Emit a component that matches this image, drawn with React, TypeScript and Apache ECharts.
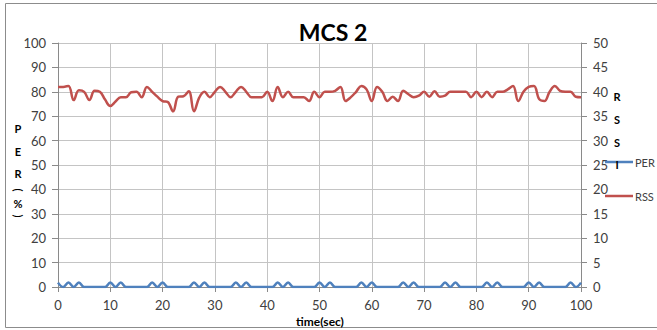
import React, { useEffect, useRef } from "react";
import * as echarts from "echarts";

const timeSec: number[] = Array.from({ length: 101 }, (_, i) => i);

const perValues: number[] = [
  1.8, 0, 1.8, 0, 1.8, 0, 0, 0, 0, 0,
  1.8, 0, 1.8, 0, 0, 0, 0, 0, 1.8, 0,
  1.8, 0, 0, 0, 0, 0, 1.8, 0, 1.8, 0,
  0, 0, 0, 0, 1.8, 0, 1.8, 0, 0, 0,
  0, 0, 1.8, 0, 1.8, 0, 0, 0, 0, 0,
  1.8, 0, 1.8, 0, 0, 0, 0, 0, 1.8, 0,
  1.8, 0, 0, 0, 0, 0, 1.8, 0, 1.8, 0,
  0, 0, 0, 0, 1.8, 0, 1.8, 0, 0, 0,
  0, 0, 1.8, 0, 1.8, 0, 0, 0, 0, 0,
  1.8, 0, 1.8, 0, 0, 0, 0, 0, 1.8, 0,
  1.8,
];

const rssValues: number[] = [
  41, 41, 41.2, 38.3, 40.3, 40, 38.3, 40.2, 40, 38.4,
  37.1, 38, 38.9, 38.9, 39.9, 40, 38.9, 41, 40, 39,
  38.1, 37.9, 36, 39, 39.1, 40.1, 36, 38.8, 40, 38.9,
  40, 41, 40, 38.9, 40, 41, 40, 38.9, 38.9, 38.9,
  40, 38.1, 41, 38.9, 40, 38.9, 38.9, 38.9, 38.1, 40,
  38.9, 40, 40, 40.2, 41, 38.1, 38.9, 40, 41.2, 40.5,
  38.1, 41, 40, 38.1, 39, 38.1, 40.2, 39.5, 38.9, 39.2,
  40, 39, 40.1, 39, 39.2, 40, 40, 40, 40, 38.9,
  40, 38.9, 40, 38.9, 40, 40, 40.5, 41.2, 38.1, 40,
  41, 41.2, 38.5, 38.1, 40, 41.2, 40.2, 40, 40, 39,
  38.9,
];

const seriesNames: string[] = ["PER", "RSS"];
const seriesColors: string[] = ["#4F81BD", "#C0504D"];
const chartTitle = "MCS 2";
const xAxisTitle = "time(sec)";
const leftTitleChars: string[] = ["P", "E", "R", "(", "%", ")"];
const rightTitleChars: string[] = ["R", "S", "S", "I"];

const FONT = "Lato, 'Open Sans', sans-serif";
const LABEL_COLOR = "#404040";
const GRID_COLOR = "#c4c4c4";
const AXIS_COLOR = "#8a8a8a";

export default function App() {
  const ref = useRef<HTMLDivElement | null>(null);

  useEffect(() => {
    if (!ref.current) return;
    const chart = echarts.init(ref.current, undefined, { renderer: "svg" });

    const leftYs = [128, 151, 173, 190, 203, 216];
    const rightYs = [96, 119, 142, 164];
    const legendYs = [162, 196];

    const graphics: any[] = [
      {
        type: "rect",
        shape: { x: 5.5, y: 3.5, width: 660, height: 324 },
        style: { fill: "none", stroke: "#8c8c8c", lineWidth: 1 },
        silent: true,
      },
      {
        type: "text",
        x: 333,
        y: 43,
        style: {
          text: chartTitle,
          font: `bold 23px ${FONT}`,
          fill: "#000",
          textAlign: "center",
          textVerticalAlign: "bottom",
        },
      },
      {
        type: "text",
        x: 320,
        y: 321,
        style: {
          text: xAxisTitle,
          font: `bold 12px ${FONT}`,
          fill: "#000",
          textAlign: "center",
          textVerticalAlign: "middle",
        },
      },
    ];

    seriesNames.forEach((name, i) => {
      graphics.push({
        type: "line",
        shape: { x1: 605, y1: legendYs[i], x2: 633, y2: legendYs[i] },
        style: { stroke: seriesColors[i], lineWidth: 2.5 },
        z: 90,
      });
      graphics.push({
        type: "text",
        x: 635,
        y: legendYs[i],
        style: {
          text: name,
          font: `11px ${FONT}`,
          fill: LABEL_COLOR,
          textAlign: "left",
          textVerticalAlign: "middle",
        },
      });
    });

    leftTitleChars.forEach((ch, i) => {
      const rot = ch === "(" || ch === ")" ? -Math.PI / 2 : 0;
      graphics.push({
        type: "text",
        x: 18,
        y: leftYs[i],
        rotation: rot,
        style: {
          text: ch,
          font: `bold 11px ${FONT}`,
          fill: "#000",
          textAlign: "center",
          textVerticalAlign: "middle",
        },
      });
    });
    rightTitleChars.forEach((ch, i) => {
      graphics.push({
        type: "text",
        x: 617,
        y: rightYs[i],
        style: {
          text: ch,
          font: `bold 11px ${FONT}`,
          fill: "#000",
          textAlign: "center",
          textVerticalAlign: "middle",
        },
        z: 100,
      });
    });

    const axisLabel = { color: LABEL_COLOR, fontSize: 13, fontFamily: FONT };

    chart.setOption({
      animation: false,
      backgroundColor: "#fff",
      grid: { left: 58, right: 76, top: 43, bottom: 43, containLabel: false },
      xAxis: {
        type: "value",
        min: 0,
        max: 100,
        interval: 10,
        axisLine: { show: true, onZero: false, lineStyle: { color: AXIS_COLOR } },
        axisTick: { show: true, length: 5, lineStyle: { color: AXIS_COLOR } },
        splitLine: { show: true, lineStyle: { color: GRID_COLOR } },
        axisLabel: { ...axisLabel, margin: 11 },
      },
      yAxis: [
        {
          type: "value",
          min: 0,
          max: 100,
          interval: 10,
          axisLine: { show: true, lineStyle: { color: AXIS_COLOR } },
          axisTick: { show: true, length: 6, lineStyle: { color: AXIS_COLOR } },
          splitLine: { show: true, lineStyle: { color: GRID_COLOR } },
          axisLabel: { ...axisLabel, margin: 12 },
        },
        {
          type: "value",
          min: 0,
          max: 50,
          interval: 5,
          position: "right",
          axisLine: { show: true, lineStyle: { color: AXIS_COLOR } },
          axisTick: { show: true, length: 6, lineStyle: { color: AXIS_COLOR } },
          splitLine: { show: false },
          axisLabel: { ...axisLabel, margin: 12 },
        },
      ],
      series: [
        {
          name: seriesNames[0],
          type: "line",
          yAxisIndex: 0,
          data: timeSec.map((t, i) => [t, perValues[i]]),
          smooth: 0.4,
          symbol: "none",
          lineStyle: { color: seriesColors[0], width: 2.5 },
          itemStyle: { color: seriesColors[0] },
        },
        {
          name: seriesNames[1],
          type: "line",
          yAxisIndex: 1,
          data: timeSec.map((t, i) => [t, rssValues[i]]),
          smooth: 0.4,
          symbol: "none",
          lineStyle: { color: seriesColors[1], width: 2.5 },
          itemStyle: { color: seriesColors[1] },
        },
      ],
      graphic: graphics,
    });

    return () => chart.dispose();
  }, []);

  return (
    <div
      ref={ref}
      style={{ position: "absolute", left: 0, top: 0, width: 657, height: 330 }}
    />
  );
}
